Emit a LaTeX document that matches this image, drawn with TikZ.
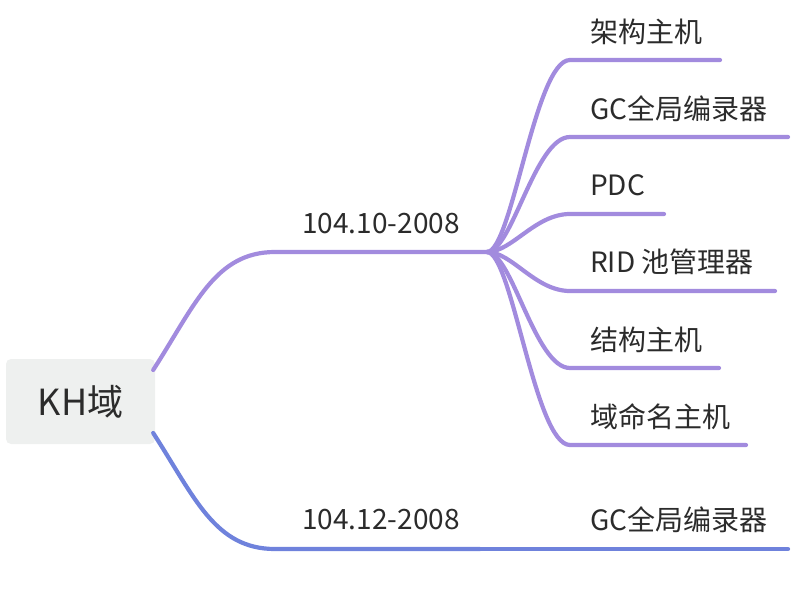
\documentclass[tikz,border=0pt]{standalone}
\usepackage{fontspec}
\setmainfont{Noto Sans CJK SC}
\definecolor{purp}{HTML}{A28BDE}
\definecolor{blu}{HTML}{6F82DC}
\definecolor{boxgray}{HTML}{EEF0EF}
\definecolor{txt}{HTML}{2B2B2B}
\begin{document}
\begin{tikzpicture}[x=1pt,y=-1pt]
\tikzset{
  rootbox/.style={fill=boxgray, rounded corners=5pt, minimum width=149pt, minimum height=85pt, inner sep=0pt, text=txt, font=\fontsize{36}{40}\selectfont},
  lbl/.style={inner sep=0pt, text=txt, font=\fontsize{28}{32}\selectfont},
  leaf/.style={lbl, anchor=west},
  conn/.style={line width=4.2pt, line cap=round},
  pconn/.style={conn, draw=purp},
  bconn/.style={conn, draw=blu}
}
\useasboundingbox (0,0) rectangle (792,594);
\node[rootbox] (root) at (80.5,401.5) {KH域};
\node[lbl] (l1) at (381,224) {104.10-2008};
\node[lbl] (l2) at (381,520) {104.12-2008};
\coordinate (b1) at (487,252);
\coordinate (b2) at (480,549);
\node[leaf] (c1) at (590,32) {架构主机};
\node[leaf] (c2) at (590,109) {GC全局编录器};
\node[leaf] (c3) at (590,185) {PDC};
\node[leaf] (c4) at (590,262) {RID 池管理器};
\node[leaf] (c5) at (590,340) {结构主机};
\node[leaf] (c6) at (590,417) {域命名主机};
\node[leaf] (d1) at (590,520) {GC全局编录器};
\coordinate (e1) at (720,60);
\coordinate (e2) at (788,137);
\coordinate (e3) at (664,214);
\coordinate (e4) at (775,291);
\coordinate (e5) at (719,368);
\coordinate (e6) at (746,445);
\coordinate (f1) at (788,549);
% main branches
\draw[pconn] ([xshift=-2pt,yshift=31.5pt]root.east) .. controls (195,305) and (215,252) .. (275,252) -- (b1);
\draw[bconn] ([xshift=-2pt,yshift=-31.5pt]root.east) .. controls (195,498) and (215,549) .. (275,549) -- (b2);
% children
\foreach \e in {e1,e2,e3,e4,e5,e6}{
  \draw[pconn] (b1) .. controls (512,252) and (535,252 |- \e) .. (570,252 |- \e) -- (\e);
}
\draw[bconn] (b2) -- (f1);
\end{tikzpicture}
\end{document}
